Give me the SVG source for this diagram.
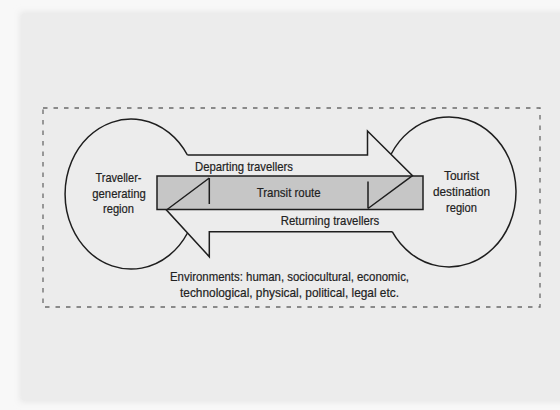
<svg xmlns="http://www.w3.org/2000/svg" width="560" height="410" viewBox="0 0 560 410">
<defs>
<filter id="soft" x="-10%" y="-10%" width="120%" height="120%"><feGaussianBlur stdDeviation="3"/></filter>
<style>
.ln{fill:none;stroke:#1e1e1e;stroke-width:1.5;stroke-linejoin:miter}
.tx{font-family:"Liberation Sans","Open Sans",sans-serif;font-size:13px;fill:#222;stroke:#222;stroke-width:0.2;text-anchor:middle}
</style>
</defs>
<rect width="560" height="410" fill="#f8f8f8"/>
<rect x="20" y="12" width="560" height="390" fill="#e6e6e6" filter="url(#soft)"/>
<rect x="22" y="14" width="560" height="386" fill="#ececec"/>
<rect id="environment" x="43" y="108" width="497" height="199" fill="none" stroke="#6a6a6a" stroke-width="1.3" stroke-dasharray="4.5 6"/>
<g id="transit-route">
<rect x="157" y="176" width="266" height="33.5" fill="#c6c6c6" stroke="#1e1e1e" stroke-width="1.5"/>
<text class="tx" x="288.7" y="197" textLength="64" lengthAdjust="spacingAndGlyphs">Transit route</text>
</g>
<g id="connectors">
<path class="ln" d="M187.4,155 L367.5,155 L367.5,131 L412.5,175.7 L368,208.5 M368,181.5 L368,208.5"/>
<path class="ln" d="M392.2,231.7 L209.3,231.7 L209.3,256.7 L166.5,210 L209.3,178 M209.3,178 L209.3,204"/>
<text class="tx" x="244" y="171" textLength="98" lengthAdjust="spacingAndGlyphs">Departing travellers</text>
<text class="tx" x="330" y="224.5" textLength="98.5" lengthAdjust="spacingAndGlyphs">Returning travellers</text>
</g>
<g id="traveller-generating-region">
<path class="ln" d="M187.4,155 A66,75 0 1,0 187.5,233"/>
<text class="tx" x="118.5" y="181.5" textLength="46" lengthAdjust="spacingAndGlyphs">Traveller-</text>
<text class="tx" x="119" y="197.5" textLength="53.5" lengthAdjust="spacingAndGlyphs">generating</text>
<text class="tx" x="118.5" y="213" textLength="31" lengthAdjust="spacingAndGlyphs">region</text>
</g>
<g id="tourist-destination-region">
<path class="ln" d="M391.2,154 A67,75 0 1,1 392.2,231.7"/>
<text class="tx" x="461.5" y="179.5" textLength="35" lengthAdjust="spacingAndGlyphs">Tourist</text>
<text class="tx" x="461.5" y="195.5" textLength="57" lengthAdjust="spacingAndGlyphs">destination</text>
<text class="tx" x="461.5" y="211.5" textLength="31" lengthAdjust="spacingAndGlyphs">region</text>
</g>
<g id="environments-label">
<text class="tx" x="289.5" y="280.5" textLength="239" lengthAdjust="spacingAndGlyphs">Environments: human, sociocultural, economic,</text>
<text class="tx" x="289.5" y="297" textLength="219" lengthAdjust="spacingAndGlyphs">technological, physical, political, legal etc.</text>
</g>
</svg>
